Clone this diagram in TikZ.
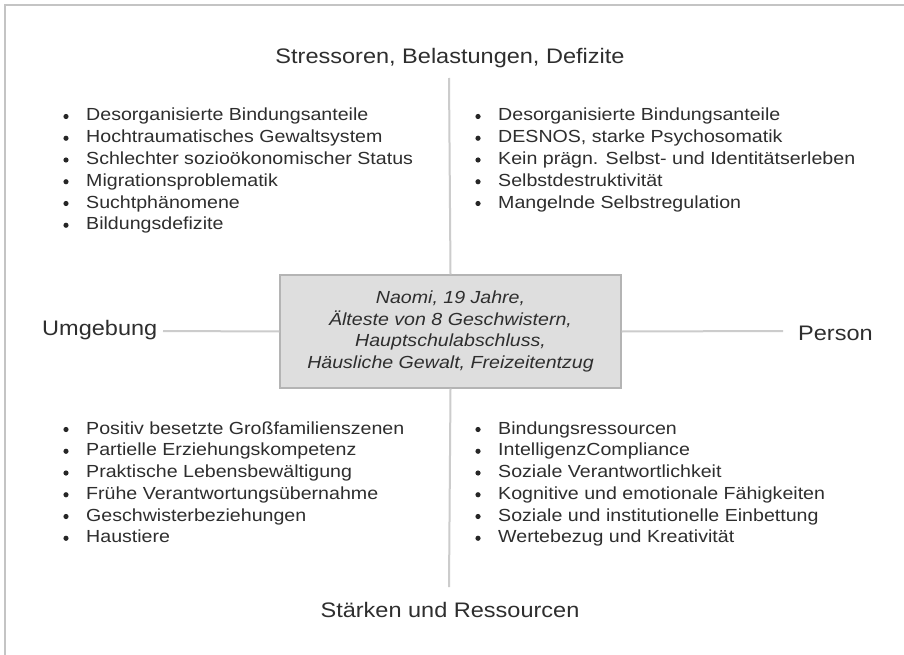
\documentclass[tikz,border=0pt]{standalone}
\usepackage{fontspec}
\setmainfont{Liberation Sans}[FakeStretch=1.12]
\definecolor{ink}{HTML}{2E2E2E}
\definecolor{rulegray}{HTML}{CCCCCC}
\definecolor{framegray}{HTML}{C4C4C4}
\definecolor{boxfill}{HTML}{DEDEDE}
\definecolor{boxline}{HTML}{B4B4B4}
\begin{document}
\begin{tikzpicture}[x=1pt,y=-1pt,
  heading/.style={text=ink, font=\fontsize{21}{25}\selectfont, inner sep=0pt},
  listitem/.style={text=ink, font=\fontsize{17.5}{21.75}\selectfont, anchor=base west, inner sep=0pt},
  bulletdot/.style={fill=black!85},
  axisline/.style={draw=rulegray, line width=2pt},
  casebox/.style={draw=boxline, fill=boxfill, line width=1.2pt,
    minimum width=341pt, minimum height=113pt, inner sep=0pt,
    align=center, text=ink, font=\itshape\fontsize{17.5}{21.6}\selectfont}]
  \useasboundingbox (0,0) rectangle (904,655);
  \fill[white] (0,0) rectangle (904,655);
  % frame on the top and left edges
  \draw[draw=framegray, line width=2pt] (5,655) -- (5,5) -- (904,5);

  % axis labels
  \node[heading] (stress) at (450,58) {Stressoren, Belastungen, Defizite};
  \node[heading] (staerken) at (450,610) {Stärken und Ressourcen};
  \node[heading, anchor=west] (umgebung) at (42,330) {Umgebung};
  \node[heading, anchor=west] (person) at (798,333) {Person};

  % axis end points
  \coordinate (vtop) at (449,78);
  \coordinate (vbot) at (449,587);
  \coordinate (hleft) at (163,331);
  \coordinate (hright) at (783,331);

  % central case description
  \node[casebox] (case) at (450.5,331.5)
    {Naomi, 19 Jahre,\\Älteste von 8 Geschwistern,\\Hauptschulabschluss,\\Häusliche Gewalt, Freizeitentzug};

  \draw[axisline] (vtop) -- (case.north);
  \draw[axisline] (case.south) -- (vbot);
  \draw[axisline] (hleft) -- (case.west);
  \draw[axisline] (case.east) -- (hright);

  % stressors in the environment
  \foreach \t [count=\i] in {Desorganisierte Bindungsanteile, Hochtraumatisches Gewaltsystem,
      Schlechter sozioökonomischer Status, Migrationsproblematik, Suchtphänomene, Bildungsdefizite}{
    \node[listitem] (sl\i) at (86,{121+21.75*(\i-1)}) {\t};
    \fill[bulletdot] (66,{116.5+21.75*(\i-1)}) circle (2.6pt);}

  % stressors in the person
  \foreach \t [count=\i] in {Desorganisierte Bindungsanteile, {DESNOS, starke Psychosomatik},
      Kein prägn. Selbst- und Identitätserleben, Selbstdestruktivität, Mangelnde Selbstregulation}{
    \node[listitem] (sr\i) at (498,{121+21.75*(\i-1)}) {\t};
    \fill[bulletdot] (478,{116.5+21.75*(\i-1)}) circle (2.6pt);}

  % resources in the environment
  \foreach \t [count=\i] in {Positiv besetzte Großfamilienszenen, Partielle Erziehungskompetenz,
      Praktische Lebensbewältigung, Frühe Verantwortungsübernahme, Geschwisterbeziehungen, Haustiere}{
    \node[listitem] (rl\i) at (86,{434+21.75*(\i-1)}) {\t};
    \fill[bulletdot] (66,{429.5+21.75*(\i-1)}) circle (2.6pt);}

  % resources in the person
  \foreach \t [count=\i] in {Bindungsressourcen, IntelligenzCompliance, Soziale Verantwortlichkeit,
      Kognitive und emotionale Fähigkeiten, Soziale und institutionelle Einbettung, Wertebezug und Kreativität}{
    \node[listitem] (rr\i) at (498,{434+21.75*(\i-1)}) {\t};
    \fill[bulletdot] (478,{429.5+21.75*(\i-1)}) circle (2.6pt);}
\end{tikzpicture}
\end{document}
